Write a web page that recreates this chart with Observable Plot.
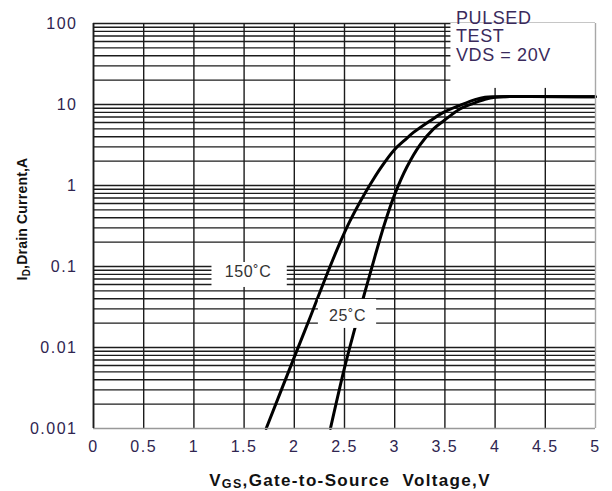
<!DOCTYPE html>
<html><head><meta charset="utf-8">
<script src="https://cdn.jsdelivr.net/npm/d3@7"></script>
<script src="https://cdn.jsdelivr.net/npm/@observablehq/plot@0.6"></script>
<style>
html,body{margin:0;padding:0;background:#fff}
#chart{width:612px;height:491px}
</style>
</head><body><div id="chart"></div>
<script>
// ---- data ----
const xTicks = [0, 0.5, 1, 1.5, 2, 2.5, 3, 3.5, 4, 4.5, 5];
const xTickLabels = ["0", "0.5", "1", "1.5", "2", "2.5", "3", "3.5", "4", "4.5", "5"];
const yTicks = [0.001, 0.01, 0.1, 1, 10, 100];
const yTickLabels = ["0.001", "0.01", "0.1", "1", "10", "100"];

const vgs150 = [1.72, 2.0, 2.16, 2.33, 2.45, 2.55, 2.656, 2.76, 2.856, 2.995, 3.1, 3.187, 3.354, 3.49, 3.65, 3.8, 3.9, 4.0, 5.0];
const id150  = [0.001, 0.0076, 0.024, 0.083, 0.19, 0.355, 0.63, 1.05, 1.62, 2.75, 3.63, 4.52, 6.31, 8.04, 9.77, 11.5, 12.3, 12.5, 12.5];
const vgs25  = [2.36, 2.5, 2.6, 2.7, 2.8, 2.9, 3.0, 3.12, 3.254, 3.387, 3.49, 3.65, 3.785, 3.9, 4.0, 4.1, 5.0];
const id25   = [0.001, 0.0056, 0.0166, 0.0468, 0.129, 0.339, 0.776, 1.68, 3.2, 5.01, 6.31, 8.81, 10.35, 11.6, 12.3, 12.5, 12.5];

const curveLabels = ["150˚C", "25˚C"];
const noteLines = ["PULSED", "TEST", "VDS = 20V"];
const xTitle = ["V", "GS", ",Gate-to-Source  Voltage,V"];
const yTitle = ["I", "D", ",Drain Current,A"];

// ---- annotation placement (data coordinates) ----
const noteBox = {x1: 3.56, x2: 5, y1: 15.8, y2: 100};
const labelBoxes = [
  {x1: 1.18, x2: 1.93, y1: 0.0551, y2: 0.112},
  {x1: 2.24, x2: 2.82, y1: 0.0172, y2: 0.0392}
];
const labelPos = [{x: 1.54, y: 0.0867}, {x: 2.53, y: 0.0248}];
const notePos = {x: 3.61, y: 100};

const rows = [
  ...vgs150.map((v, i) => ({v, id: id150[i], t: "150"})),
  ...vgs25.map((v, i) => ({v, id: id25[i], t: "25"}))
];
const yGrid = d3.scaleLog().domain([0.001, 100]).ticks();

const font = "'Liberation Sans', Arial, Helvetica, sans-serif";
const gridColor = "#1c1c1c";
const tickColor = "#2f2550";

const chart = Plot.plot({
  width: 612, height: 491,
  marginLeft: 93, marginRight: 17, marginTop: 23, marginBottom: 63,
  style: {fontFamily: font, background: "#fff", overflow: "visible"},
  x: {domain: [0, 5], label: null},
  y: {type: "log", domain: [0.001, 100], label: null},
  marks: [
    Plot.ruleY(yGrid.filter(d => d > 0.001), {stroke: gridColor, strokeWidth: 1.4}),
    Plot.ruleX(xTicks.filter(d => d < 5), {stroke: gridColor, strokeWidth: 1.4}),
    Plot.line(rows, {x: "v", y: "id", z: "t", curve: "catmull-rom", stroke: "#000", strokeWidth: 3}),
    Plot.rect([noteBox, ...labelBoxes], {x1: "x1", x2: "x2", y1: "y1", y2: "y2", fill: "#fff"}),
    Plot.ruleY([0.001], {stroke: "#999", strokeWidth: 1.4}),
    Plot.ruleX([5], {stroke: "#a8a8a8", strokeWidth: 1.4}),
    Plot.ruleX([0], {stroke: gridColor, strokeWidth: 1.6}),
    Plot.axisX(xTicks, {tickSize: 0, tickPadding: 12, fontSize: 16, color: tickColor,
      tickFormat: d => xTickLabels[xTicks.indexOf(d)], label: null}),
    Plot.axisY(yTicks, {tickSize: 0, tickPadding: 16, fontSize: 16, color: tickColor,
      tickFormat: d => yTickLabels[yTicks.indexOf(d)], label: null}),
    Plot.text(labelPos, {x: "x", y: "y", text: (d, i) => curveLabels[i], fontSize: 16, fill: "#333"}),
    Plot.text([noteLines.join("\n")], {x: () => notePos.x, y: () => notePos.y, text: d => d,
      textAnchor: "start", lineAnchor: "top", lineHeight: 1.03, dy: -13, fontSize: 18, fill: "#3a2a5c"})
  ]
});

document.getElementById("chart").appendChild(chart);
const svg = d3.select(chart);
svg.selectAll('g[aria-label="x-axis tick label"] text, g[aria-label="y-axis tick label"] text')
  .attr("letter-spacing", "1.5px");
svg.selectAll('g[aria-label="text"] text').attr("letter-spacing", "0.6px");

const sx = chart.scale("x"), sy = chart.scale("y");
const xMid = (sx.apply(0) + sx.apply(5)) / 2;
const yMid = (sy.apply(0.001) + sy.apply(100)) / 2;

const xt = svg.append("text")
  .attr("x", xMid + 6).attr("y", 486)
  .attr("text-anchor", "middle")
  .attr("font-family", font).attr("font-weight", "bold").attr("font-size", 17)
  .attr("letter-spacing", "1.35px")
  .attr("fill", "#111").attr("xml:space", "preserve").style("white-space", "pre");
xt.append("tspan").text(xTitle[0]);
xt.append("tspan").attr("font-size", 12.5).attr("dy", 1.5).text(xTitle[1]);
xt.append("tspan").attr("dy", -1.5).text(xTitle[2]);

const yt = svg.append("text")
  .attr("transform", `translate(27,${yMid - 6.5}) rotate(-90)`)
  .attr("text-anchor", "middle")
  .attr("font-family", font).attr("font-weight", "bold").attr("font-size", 14)
  .attr("letter-spacing", "0.2px")
  .attr("fill", "#111");
yt.append("tspan").text(yTitle[0]);
yt.append("tspan").attr("font-size", 10).attr("dy", 3).text(yTitle[1]);
yt.append("tspan").attr("dy", -3).text(yTitle[2]);
</script>
</body></html>
